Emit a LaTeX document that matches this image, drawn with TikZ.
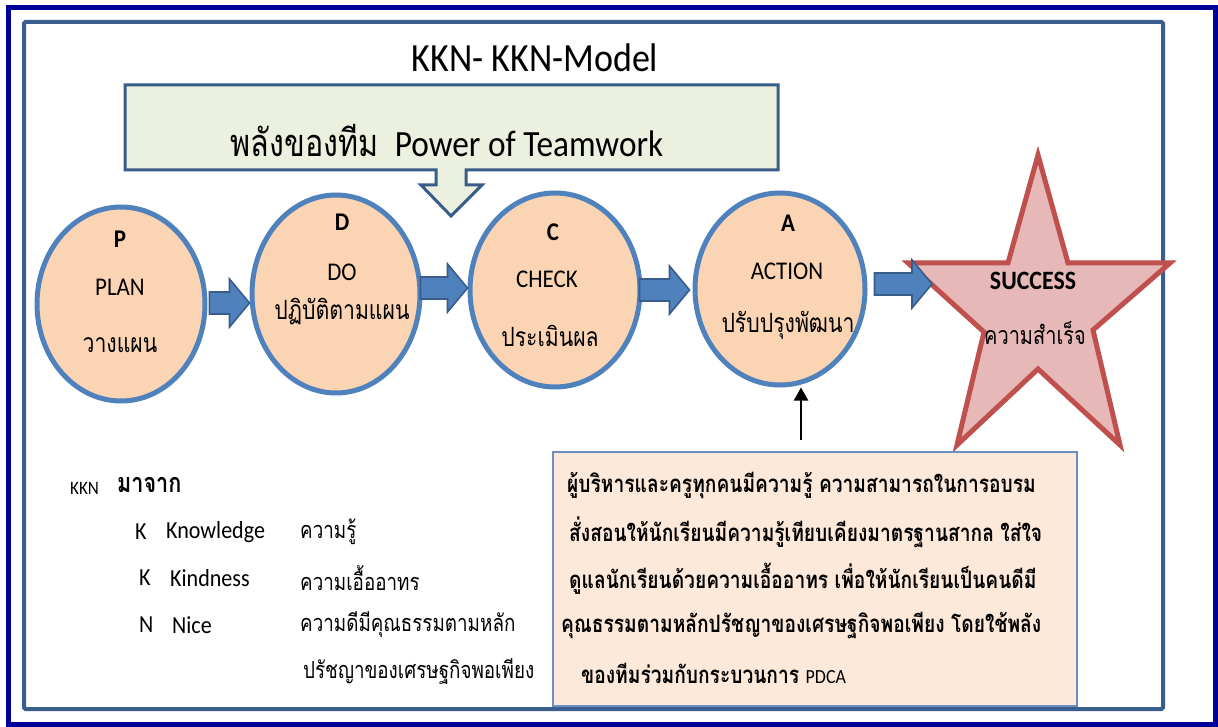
\documentclass[tikz,border=0pt]{standalone}
\usepackage{fontspec}
\setmainfont{Carlito}[FakeStretch=0.9]
\newfontfamily\thai[Script=Thai,FakeStretch=0.8]{Loma}
\usetikzlibrary{shapes.geometric,calc,arrows.meta}
\definecolor{outerblue}{HTML}{000099}
\definecolor{frameblue}{HTML}{3A5F8F}
\definecolor{calloutfill}{HTML}{EBF1DE}
\definecolor{calloutline}{HTML}{385D8A}
\definecolor{circfill}{HTML}{FBD4B4}
\definecolor{circline}{HTML}{4F81BD}
\definecolor{arrfill}{HTML}{4F81BD}
\definecolor{arrline}{HTML}{385D8A}
\definecolor{starfill}{HTML}{E6B9B8}
\definecolor{starline}{HTML}{C0504D}
\definecolor{boxfill}{HTML}{FDE9D9}
\definecolor{boxline}{HTML}{6C8EC0}
\newcommand{\fsz}[1]{\fontsize{#1}{#1}\selectfont}
\newcommand{\bigarrow}[2]{\draw[barrow] let \p1=#1, \p2=#2 in (\x1,\y1+11pt) -- (\x2-20pt,\y1+11pt) -- (\x2-20pt,\y1+24pt) -- (\x2,\y1) -- (\x2-20pt,\y1-24pt) -- (\x2-20pt,\y1-11pt) -- (\x1,\y1-11pt) -- cycle;}
\begin{document}
\begin{tikzpicture}[x=1pt,y=-1pt,
  circ/.style={ellipse,draw=circline,fill=circfill,line width=5pt,inner sep=0},
  barrow/.style={draw=arrline,fill=arrfill,line width=1.6pt,line join=miter},
  lbl/.style={inner sep=0,font=\fsz{25.5}},
  lblb/.style={inner sep=0,font=\fsz{25.5}\bfseries},
  tlbl/.style={inner sep=0,font=\thai\fsz{26.5}},
  list/.style={inner sep=0,anchor=west,font=\fsz{24.5}},
  tlist/.style={inner sep=0,anchor=west,font=\thai\fsz{23.5}},
  boxline/.style={inner sep=0,anchor=west,font=\thai\bfseries\fsz{24}}]
\useasboundingbox (0,0) rectangle (1218,727);
\fill[white] (0,0) rectangle (1218,727);
% frames
\draw[outerblue,line width=5pt] (8.5,7.5) rectangle (1215,724.5);
\draw[frameblue,line width=4pt,rounded corners=1.5pt] (24,22) rectangle (1163,709);
% title
\node[inner sep=0,font=\fsz{40}] (title) at (535,58) {KKN- KKN-Model};
% callout
\draw[calloutline,fill=calloutfill,line width=3pt,line join=miter]
  (125,85) -- (778,85) -- (778,170) -- (466,170) -- (466,185) -- (482,185) -- (451,216) -- (421,185) -- (436,185) -- (436,170) -- (125,170) -- cycle;
\node[inner sep=0,font=\fsz{37}] (team) at (447,141) {{\thai\fsz{38}พลังของทีม}\hspace{0.45em}Power of Teamwork};
% circles
\node[circ,minimum width=168,minimum height=194] (P) at (121,304) {};
\node[circ,minimum width=168,minimum height=198] (D) at (336,294) {};
\node[circ,minimum width=170,minimum height=194] (C) at (555,290) {};
\node[circ,minimum width=170,minimum height=192] (A) at (780,289) {};
% star
\draw[starline,fill=starfill,line width=5pt,line join=miter]
  (1038,155) -- (1068,263) -- (1170,263) -- (1093,330) -- (1120,445) -- (1038,369) -- (957,445) -- (984,332) -- (908,263) -- (1008,263) -- cycle;
\coordinate (Sin) at (932,284);
% block arrows
\bigarrow{([xshift=2pt,yshift=1pt]P.east)}{(D.west)}
\bigarrow{([xshift=-2pt,yshift=6pt]D.east)}{(C.west)}
\bigarrow{([xshift=-3pt]C.east)}{([xshift=-3pt]A.west)}
\bigarrow{([xshift=7pt,yshift=5pt]A.east)}{(Sin)}
% circle labels
\node[lblb] (P1) at (120,239) {P};
\node[lbl]  (P2) at (120,287) {PLAN};
\node[tlbl] (P3) at (120,345) {วางแผน};
\node[lblb] (D1) at (342,222) {D};
\node[lbl]  (D2) at (342,272) {DO};
\node[tlbl] (D3) at (342,312) {ปฏิบัติตามแผน};
\node[lblb] (C1) at (553,232) {C};
\node[lbl]  (C2) at (547,279) {CHECK};
\node[tlbl] (C3) at (550,336) {ประเมินผล};
\node[lblb] (A1) at (788,223) {A};
\node[lbl]  (A2) at (787,271) {ACTION};
\node[tlbl] (A3) at (788,325) {ปรับปรุงพัฒนา};
% star labels
\node[inner sep=0,font=\fsz{26.5}\bfseries] (S1) at (1033,281) {SUCCESS};
\node[inner sep=0,font=\thai\fsz{25}] (S2) at (1035,333) {ความสำเร็จ};
% description box
\node[draw=boxline,fill=boxfill,line width=1.5pt,minimum width=524,minimum height=254,inner sep=0] (B) at (815,579) {};
\coordinate (up) at (801,440);
\draw[black,line width=2.2pt,-{Triangle[length=13pt,width=14pt]}] (up) -- (up |- A.south);
\node[boxline] (L1) at (567,485) {ผู้บริหารและครูทุกคนมีความรู้ ความสามารถในการอบรม};
\node[boxline] (L2) at (569,532) {สั่งสอนให้นักเรียนมีความรู้เทียบเคียงมาตรฐานสากล ใส่ใจ};
\node[boxline] (L3) at (569,579) {ดูแลนักเรียนด้วยความเอื้ออาทร เพื่อให้นักเรียนเป็นคนดีมี};
\node[boxline] (L4) at (561,626) {คุณธรรมตามหลักปรัชญาของเศรษฐกิจพอเพียง โดยใช้พลัง};
\node[boxline] (L5) at (581,673) {ของทีมร่วมกับกระบวนการ {\normalfont\mdseries\fsz{20}PDCA}};
% KKN list
\node[inner sep=0,anchor=west,font=\fsz{19}] (K0) at (70,488) {KKN};
\node[inner sep=0,anchor=west,font=\thai\bfseries\fsz{27}] (K0t) at (117,485) {มาจาก};
\node[list] (K1a) at (135,532) {K};
\node[list] (K1b) at (166,532) {Knowledge};
\node[tlist] (K1c) at (300,532) {ความรู้};
\node[list] (K2a) at (139,578) {K};
\node[list] (K2b) at (170,578) {Kindness};
\node[tlist] (K2c) at (300,578) {ความเอื้ออาทร};
\node[list] (K3a) at (139,625) {N};
\node[list] (K3b) at (172,625) {Nice};
\node[tlist] (K3c) at (300,625) {ความดีมีคุณธรรมตามหลัก};
\node[tlist] (K4c) at (303,672) {ปรัชญาของเศรษฐกิจพอเพียง};
\end{tikzpicture}
\end{document}
